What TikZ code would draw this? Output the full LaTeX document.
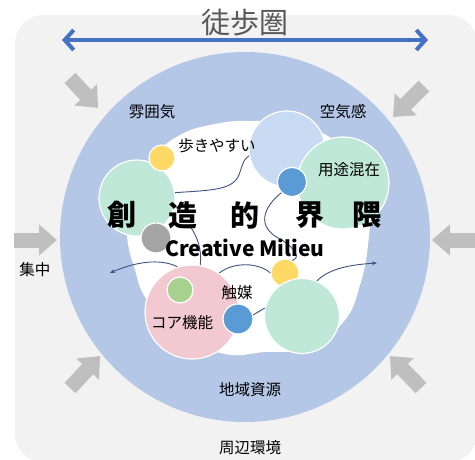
\documentclass[tikz,border=0pt]{standalone}
\usepackage{fontspec}
\setmainfont{Noto Sans CJK JP}
\usetikzlibrary{arrows.meta}
\definecolor{bgray}{HTML}{F2F2F2}
\definecolor{ring}{HTML}{B4C7E7}
\definecolor{lblue}{HTML}{C9DAF3}
\definecolor{mint}{HTML}{BFE8D9}
\definecolor{mblue}{HTML}{5B9BD5}
\definecolor{yel}{HTML}{FFD966}
\definecolor{gry}{HTML}{A5A5A5}
\definecolor{pinkc}{HTML}{F2C9D0}
\definecolor{lgreen}{HTML}{A9D18E}
\definecolor{arrgray}{HTML}{BFBFBF}
\definecolor{navy}{HTML}{3F5383}
\definecolor{dblue}{HTML}{4472C4}
\definecolor{dgray}{HTML}{595959}
\begin{document}
\begin{tikzpicture}[x=1pt,y=-1pt,
  bub/.style={circle,draw=white,line width=1.2pt,inner sep=0pt,minimum size=#1},
  lbl/.style={inner sep=1pt,font=\fontsize{15.5}{18}\selectfont},
  ttl/.style={inner sep=0pt,font=\fontsize{29}{32}\selectfont\bfseries},
  wave/.style={draw=navy,line width=0.9pt},
  warr/.style={wave,-{Stealth[length=5pt,width=4pt]}},
  garr/.style={draw=arrgray,line width=15pt,-{Triangle[length=18pt,width=30pt]}}]
\useasboundingbox (0,0) rectangle (475,459);
\clip (0,0) rectangle (475,459);
\fill[bgray,rounded corners=28pt] (15,15) rectangle (477,462);
\fill[ring] (245,237) circle[radius=185pt];
\fill[white] plot[smooth cycle,tension=0.7] coordinates {(250,121) (300,125) (345,150) (368,200) (368,245) (360,285) (345,320) (310,348) (265,352) (225,354) (180,335) (147,300) (135,270) (127,235) (130,195) (150,160) (180,135) (215,124)};
% gray arrows
\coordinate (a1s) at (70,78);   \coordinate (a1e) at (98,108);
\coordinate (a2s) at (424,86);  \coordinate (a2e) at (393,117);
\coordinate (a3s) at (14,240);  \coordinate (a3e) at (57,240);
\coordinate (a4s) at (477,240); \coordinate (a4e) at (432,240);
\coordinate (a5s) at (70,388);  \coordinate (a5e) at (100,356);
\coordinate (a6s) at (421,388); \coordinate (a6e) at (390,356);
\draw[garr] (a1s) -- (a1e);
\draw[garr] (a2s) -- (a2e);
\draw[garr] (a3s) -- (a3e);
\draw[garr] (a4s) -- (a4e);
\draw[garr] (a5s) -- (a5e);
\draw[garr] (a6s) -- (a6e);
% walking range arrow
\coordinate (bl) at (62,40); \coordinate (br) at (428,40);
\draw[dblue,line width=4pt,{Straight Barb[length=9pt,width=20pt]}-{Straight Barb[length=9pt,width=20pt]}] (bl) -- (br);
% circles
\node[bub=76pt,fill=lblue] (lb) at (287,149) {};
\node[bub=92pt,fill=mint] (gTR) at (343,183) {};
\node[bub=29pt,fill=mblue] (bB1) at (292,182) {};
\node[bub=76pt,fill=mint] (gL) at (137,198) {};
\node[bub=26pt,fill=yel] (yTL) at (162,158) {};
\node[bub=30pt,fill=gry] (gr) at (156,238) {};
\node[bub=94pt,fill=pinkc] (pink) at (192,312) {};
\node[bub=26pt,fill=lgreen] (lg) at (180,290) {};
\node[bub=30pt,fill=mblue] (bB2) at (238,319) {};
\node[bub=28pt,fill=yel] (yBR) at (285,273) {};
\node[bub=75pt,fill=mint] (gBR) at (302,316) {};
% wavy connectors
\coordinate (c3) at (190,226);
\coordinate (c4) at (110,273);
\coordinate (c6) at (377,263);
\draw[wave] (gL.8) .. controls (215,190) and (235,190) .. (240,172) .. controls (244,160) .. (lb.190);
\draw[wave] (bB1.225) .. controls (258,212) and (260,230) .. (282,240) .. controls (297,250) and (300,258) .. (yBR.60);
\draw[wave] (c3) .. controls (198,238) and (202,250) .. (pink.80);
\draw[warr] (pink.108) .. controls (160,258) and (135,262) .. (c4);
\draw[wave] (pink.55) .. controls (233,262) and (258,262) .. (yBR.west);
\draw[warr] (gBR.67) .. controls (328,270) and (345,265) .. (c6);
\draw[wave] (bB2.15) -- (gBR.168);
% texts
\node[inner sep=0pt,text=dgray,font=\fontsize{29}{32}\selectfont] (tTo) at (245,23) {徒歩圏};
\node[lbl] (tFun) at (152,112) {雰囲気};
\node[lbl] (tKuki) at (343,112) {空気感};
\node[lbl] (tShu) at (35,270) {集中};
\node[lbl] (tChiiki) at (250,390) {地域資源};
\node[lbl] (tShuhen) at (250,448) {周辺環境};
\node[lbl] (tAruki) at (217,146) {歩きやすい};
\node[lbl] (tYoto) at (349,170) {用途混在};
\node[lbl] (tKoa) at (182,323) {コア機能};
\node[lbl] (tShoku) at (237,293) {触媒};
\node[ttl] (t1) at (122,215) {創};
\node[ttl] (t2) at (183,215) {造};
\node[ttl] (t3) at (245,215) {的};
\node[ttl] (t4) at (310,215) {界};
\node[ttl] (t5) at (367,215) {隈};
\node[inner sep=0pt,font=\fontsize{21}{24}\selectfont\bfseries] (tCM) at (245,248) {Creative Milieu};
\end{tikzpicture}
\end{document}
